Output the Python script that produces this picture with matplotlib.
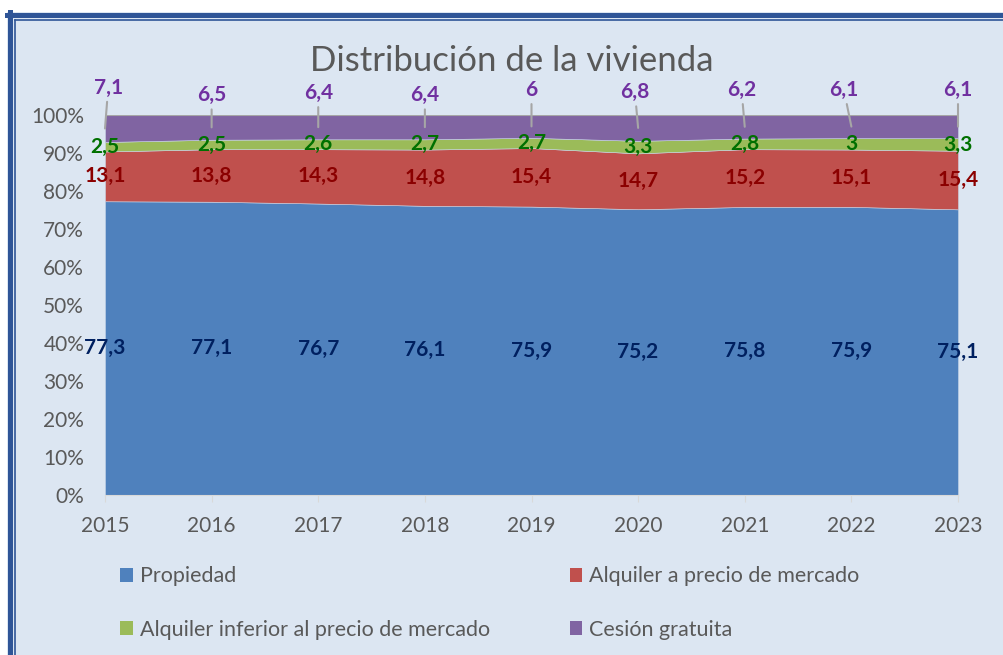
import matplotlib.pyplot as plt
from matplotlib.lines import Line2D
from matplotlib.patches import Rectangle, Patch
import numpy as np

plt.rcParams['font.family'] = ['Lato', 'DejaVu Sans']

years = [2015, 2016, 2017, 2018, 2019, 2020, 2021, 2022, 2023]
propiedad = [77.3, 77.1, 76.7, 76.1, 75.9, 75.2, 75.8, 75.9, 75.1]
alquiler_mercado = [13.1, 13.8, 14.3, 14.8, 15.4, 14.7, 15.2, 15.1, 15.4]
alquiler_inferior = [2.5, 2.5, 2.6, 2.7, 2.7, 3.3, 2.8, 3, 3.3]
cesion = [7.1, 6.5, 6.4, 6.4, 6, 6.8, 6.2, 6.1, 6.1]

names = ['Propiedad', 'Alquiler a precio de mercado',
         'Alquiler inferior al precio de mercado', 'Cesión gratuita']
colors = ['#4f81bd', '#c0504d', '#9bbb59', '#8064a2']
label_colors = ['#002060', '#8b0000', '#007000', '#7030a0']

# label placement for the purple series (years offset, height in axes units)
ces_dx = [0.03, 0, 0, 0, 0, -0.03, -0.03, -0.07, 0]
ces_y = [1.072, 1.052, 1.058, 1.052, 1.066, 1.060, 1.066, 1.066, 1.066]

W, H = 1004, 655
BORDER = '#2f5597'
fig = plt.figure(figsize=(W / 100, H / 100), dpi=100, facecolor='#dce6f2')

# white margin outside the double border
fig.patches.append(Rectangle((0, 1 - 12 / H), 1, 12 / H, transform=fig.transFigure,
                             facecolor='white', edgecolor='none', zorder=-5))
fig.patches.append(Rectangle((0, 0), 7 / W, 1, transform=fig.transFigure,
                             facecolor='white', edgecolor='none', zorder=-5))
fig.add_artist(Line2D([9.5 / W, 9.5 / W], [0, 1 - 12 / H], transform=fig.transFigure,
                      color=BORDER, lw=3.6, zorder=-4))
fig.add_artist(Line2D([7 / W, 1], [1 - 14.5 / H, 1 - 14.5 / H], transform=fig.transFigure,
                      color=BORDER, lw=3.6, zorder=-4))
fig.add_artist(Line2D([15.5 / W, 15.5 / W], [0, 1 - 19.5 / H], transform=fig.transFigure,
                      color=BORDER, lw=1.2, zorder=-4))
fig.add_artist(Line2D([15.5 / W, 1], [1 - 19.5 / H, 1 - 19.5 / H], transform=fig.transFigure,
                      color=BORDER, lw=1.2, zorder=-4))

ax = fig.add_axes([105 / W, 1 - 495 / H, (958 - 105) / W, (495 - 115) / H])
ax.set_facecolor('none')

series = [np.array(s, dtype=float) for s in (propiedad, alquiler_mercado, alquiler_inferior, cesion)]
total = sum(series)
fracs = [s / total for s in series]

ax.stackplot(years, *fracs, colors=colors, edgecolor='#c9d6e8', linewidth=0.4)

ax.set_xlim(years[0], years[-1])
ax.set_ylim(0, 1)
yt = np.arange(0, 1.01, 0.1)
ax.set_yticks(yt)
ax.set_yticklabels([f'{int(round(v * 100))}%' for v in yt])
ax.set_xticks(years)
ax.tick_params(axis='y', length=0, pad=15, labelsize=15, labelcolor='#595959')
ax.tick_params(axis='x', length=5, color='#d9d9d9', pad=10, labelsize=15, labelcolor='#595959')
for side in ['left', 'right', 'top']:
    ax.spines[side].set_visible(False)
ax.spines['bottom'].set_color('#d9d9d9')
ax.axhline(1, color='#a6a6a6', lw=0.8)

# data labels
base = np.zeros(len(years))
for i, (s, f) in enumerate(zip(series, fracs)):
    centers = base + f / 2
    for j, yr in enumerate(years):
        txt = f'{s[j]:g}'.replace('.', ',')
        if i < 3:
            ax.text(yr, centers[j], txt, ha='center', va='center', fontsize=15,
                    fontweight='bold', color=label_colors[i], clip_on=False)
        else:
            ax.annotate(txt, xy=(yr, centers[j]), xytext=(yr + ces_dx[j], ces_y[j]),
                        ha='center', va='center', fontsize=15, fontweight='bold',
                        color=label_colors[i], annotation_clip=False,
                        arrowprops=dict(arrowstyle='-', color='#a6a6a6', lw=1.5,
                                        shrinkA=1, shrinkB=0))
    base = base + f

fig.text(512 / W, 1 - 61 / H, 'Distribución de la vivienda', ha='center', va='center',
         fontsize=25, color='#595959')

# row-major order: matplotlib fills legend columns first
order = [0, 2, 1, 3]
handles = [Patch(facecolor=colors[k], edgecolor='none') for k in order]
fig.legend(handles, [names[k] for k in order], loc='upper left',
           bbox_to_anchor=(101 / W, 1 - 547 / H),
           ncol=2, frameon=False, fontsize=15.5, labelcolor='#595959',
           handlelength=0.6, handleheight=0.6, handletextpad=0.3,
           columnspacing=3.7, labelspacing=1.55)

fig.savefig('out.png', dpi=100, facecolor=fig.get_facecolor())
